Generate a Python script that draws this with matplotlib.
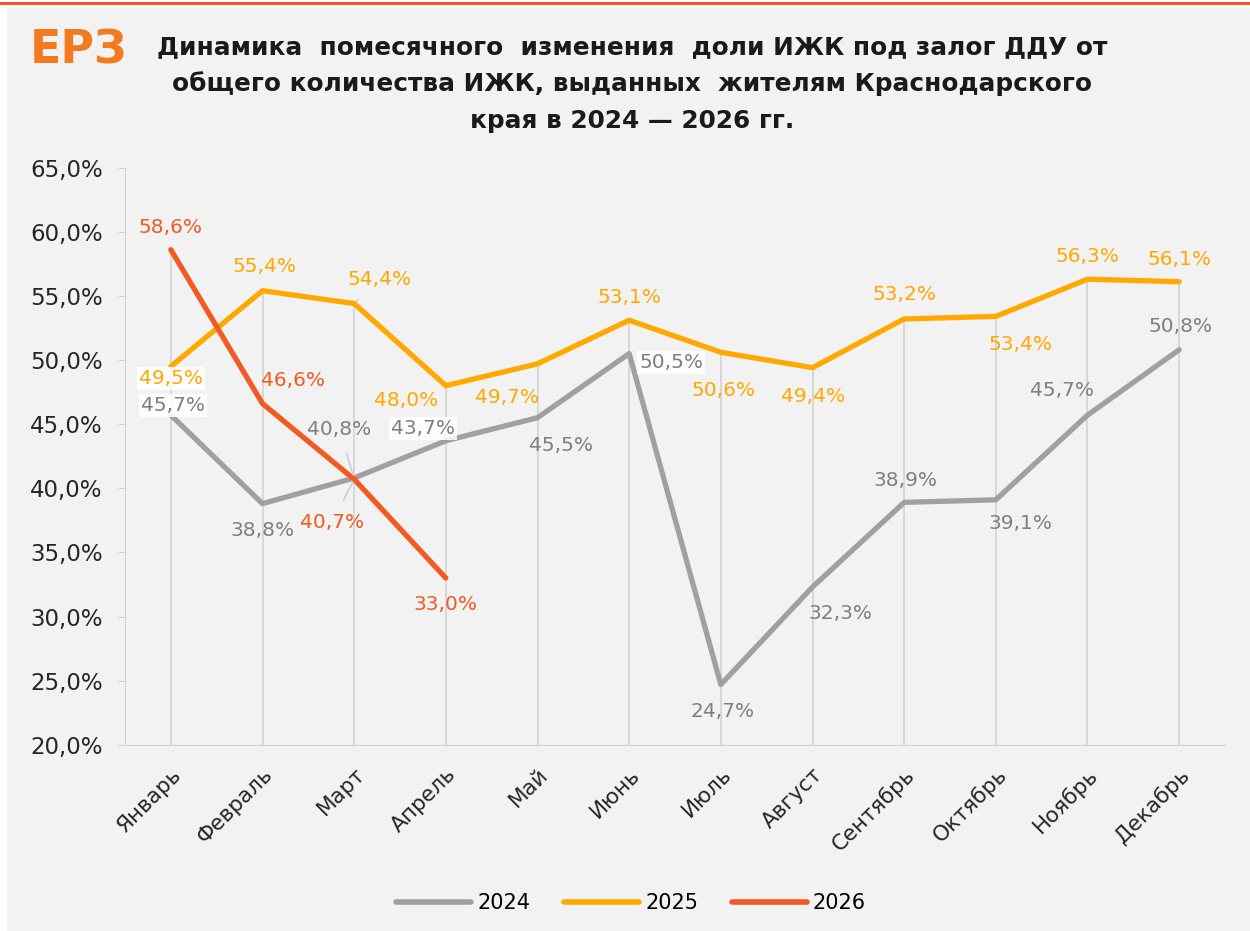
import matplotlib
matplotlib.use("Agg")
import matplotlib.pyplot as plt
from matplotlib.patches import Rectangle
from matplotlib.lines import Line2D

months = ["Январь", "Февраль", "Март", "Апрель", "Май", "Июнь",
          "Июль", "Август", "Сентябрь", "Октябрь", "Ноябрь", "Декабрь"]
y2024 = [45.7, 38.8, 40.8, 43.7, 45.5, 50.5, 24.7, 32.3, 38.9, 39.1, 45.7, 50.8]
y2025 = [49.5, 55.4, 54.4, 48.0, 49.7, 53.1, 50.6, 49.4, 53.2, 53.4, 56.3, 56.1]
y2026 = [58.6, 46.6, 40.7, 33.0]

title = ("Динамика  помесячного  изменения  доли ИЖК под залог ДДУ от\n"
         "общего количества ИЖК, выданных  жителям Краснодарского\n"
         "края в 2024 — 2026 гг.")

C24, C25, C26 = "#a0a0a0", "#ffa800", "#f15a22"
T24 = "#7f7f7f"
FONT = "DejaVu Sans"

# label offsets in pixels (dx, dy, kind): kind 1 = white box, 2 = leader line
off24 = [(2, 10, 1), (0, -27, 0), (-15, 48, 2), (-23, 12, 1), (24, -28, 0), (42, -9, 1),
         (2, -27, 0), (28, -26, 0), (1, 22, 0), (25, -24, 0), (-25, 25, 0), (1, 23, 0)]
off25 = [(0, -12, 1), (2, 24, 0), (25, 24, 2), (-40, -15, 0), (-30, -34, 0), (0, 23, 0),
         (3, -38, 0), (1, -29, 0), (0, 24, 0), (25, -28, 0), (0, 23, 0), (0, 22, 0)]
off26 = [(0, 22, 0), (31, 23, 0), (-22, -43, 2), (0, -26, 0)]

fig = plt.figure(figsize=(12.5, 9.31), dpi=100, facecolor="white")
fig.patches.append(Rectangle((7 / 1250, 0), 1, 1 - 8 / 931, transform=fig.transFigure,
                             facecolor="#f2f2f2", edgecolor="none", zorder=-10))
fig.add_artist(Line2D([0, 1], [1 - 3 / 931, 1 - 3 / 931], color="#f15a22", lw=2.2))

ax = fig.add_axes([0.1, 0.2, 0.88, 0.62])
ax.set_facecolor("none")
x = list(range(len(months)))

# drop lines
tops = [max(v) for v in zip(y2024, y2025, y2026 + [0] * 8)]
ax.vlines(x, 20, tops, color="#d0d0d0", lw=1.1, zorder=1)

ax.plot(x, y2024, color=C24, lw=3.8, solid_capstyle="round", zorder=3)
ax.plot(x, y2025, color=C25, lw=3.8, solid_capstyle="round", zorder=4)
ax.plot(x[:4], y2026, color=C26, lw=3.8, solid_capstyle="round", zorder=5)


def fmt(v):
    return f"{v:.1f}".replace(".", ",") + "%"


def labels(vals, offs, color):
    for i, (v, (dx, dy, kind)) in enumerate(zip(vals, offs)):
        kw = dict(textcoords="offset pixels", ha="center", va="center",
                  fontsize=14.5, color=color, family=FONT, zorder=6)
        if kind == 1:
            kw["bbox"] = dict(boxstyle="square,pad=0.1", fc="white", ec="none", alpha=0.85)
        if kind == 2:
            kw["arrowprops"] = dict(arrowstyle="-", color="#c8c8c8", lw=1, shrinkA=8, shrinkB=2)
        ax.annotate(fmt(v), (i, v), xytext=(dx, dy), **kw)


labels(y2024, off24, T24)
labels(y2025, off25, C25)
labels(y2026, off26, C26)

ax.set_xlim(-0.5, 11.5)
ax.set_ylim(20, 65)
ax.set_yticks(range(20, 66, 5))
ax.set_yticklabels([f"{t},0%" for t in range(20, 66, 5)], fontsize=16.5, family=FONT, color="#262626")
ax.set_xticks(x)
ax.set_xticklabels(months, rotation=45, ha="right", rotation_mode="anchor",
                   fontsize=15.5, family=FONT, color="#262626")
for s in ["top", "right"]:
    ax.spines[s].set_visible(False)
ax.spines["left"].set_color("#d0d0d0")
ax.spines["bottom"].set_color("#d0d0d0")
ax.tick_params(axis="y", length=5, color="#d0d0d0", pad=11)
ax.tick_params(axis="x", length=0, pad=14)

fig.text(0.063, 0.945, "ЕРЗ", fontsize=33, fontweight="bold", color="#f47a20",
         family=FONT, ha="center", va="center")
fig.text(0.506, 0.91, title, fontsize=17.8, fontweight="bold", color="#1a1a1a",
         family=FONT, ha="center", va="center", linespacing=1.65)

handles = [Line2D([], [], color=c, lw=4, solid_capstyle="round") for c in (C24, C25, C26)]
fig.legend(handles, ["2024", "2025", "2026"], loc="center", bbox_to_anchor=(0.505, 0.03),
           ncol=3, frameon=False, handlelength=3.6, handletextpad=0.3, columnspacing=1.6,
           prop={"family": FONT, "size": 15})

fig.savefig("out.png", dpi=100, facecolor=fig.get_facecolor())
